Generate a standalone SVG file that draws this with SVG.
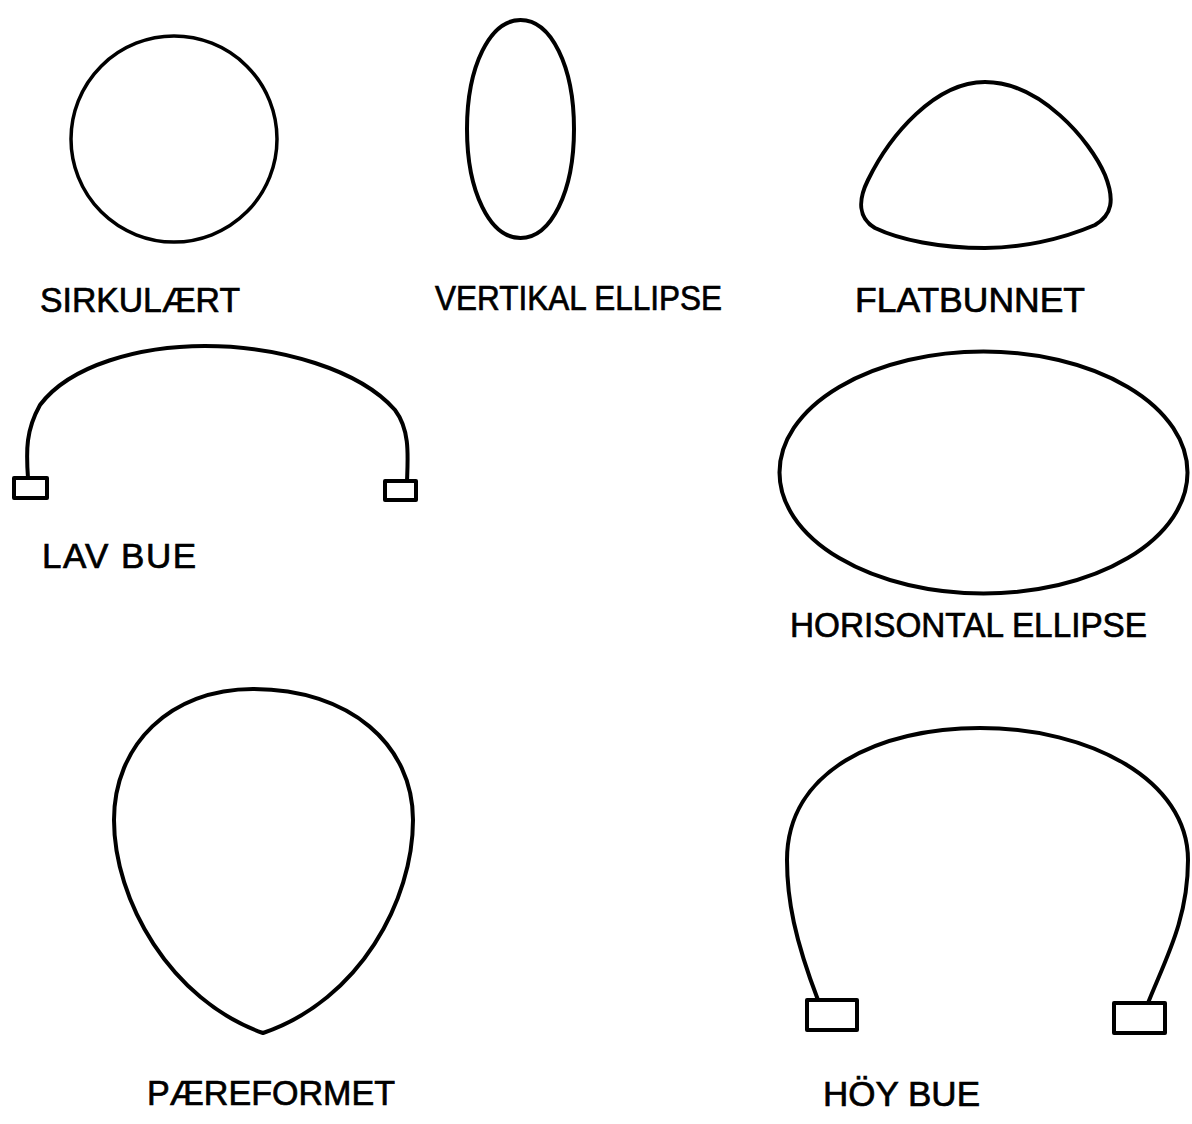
<svg xmlns="http://www.w3.org/2000/svg" width="1192" height="1124" viewBox="0 0 1192 1124">
<style>
.s{fill:none;stroke:#000;stroke-width:4;stroke-linejoin:round;stroke-linecap:round}
.t{font-family:"Liberation Sans","DejaVu Sans",Arial,sans-serif;font-size:35px;fill:#000;stroke:#000;stroke-width:0.7}
</style>
<rect width="1192" height="1124" fill="#fff"/>
<g id="sirkulaert">
<circle class="s" cx="174" cy="139" r="103" style="stroke-width:3.5"/>
<text class="t" x="40" y="312" textLength="200" lengthAdjust="spacingAndGlyphs">SIRKULÆRT</text>
</g>
<g id="vertikal-ellipse">
<path class="s" d="M520.5,20 C551,20 574,66 574,129 C574,192 551,238 520.5,238 C490,238 467,192 467,129 C467,66 490,20 520.5,20 Z"/>
<text class="t" x="435" y="310" textLength="287" lengthAdjust="spacingAndGlyphs">VERTIKAL ELLIPSE</text>
</g>
<g id="flatbunnet">
<path class="s" d="M985,82 C1040,82 1090,140 1105,175 C1115,200 1112,215 1095,225 C1060,240 1020,248 985,248 C940,248 900,240 875,228 C858,218 858,200 868,180 C890,135 935,82 985,82 Z"/>
<text class="t" x="855" y="312" textLength="230" lengthAdjust="spacingAndGlyphs">FLATBUNNET</text>
</g>
<g id="lav-bue">
<path class="s" d="M28,478 C26,450 26,430 40,405 C70,365 140,346 205,346 C280,346 360,370 395,410 C410,430 408,455 407,481"/>
<rect class="s" x="14" y="478" width="33" height="20"/>
<rect class="s" x="385" y="481" width="31" height="19"/>
<text class="t" x="42" y="568" textLength="154" lengthAdjust="spacing">LAV BUE</text>
</g>
<g id="horisontal-ellipse">
<ellipse class="s" cx="983.5" cy="472.5" rx="204" ry="121"/>
<text class="t" x="790" y="637" textLength="357" lengthAdjust="spacingAndGlyphs">HORISONTAL ELLIPSE</text>
</g>
<g id="paereformet">
<path class="s" d="M253,689 C350,689 413,745 413,820 C413,900 360,1000 263,1033 C170,1000 114,900 114,820 C114,745 170,689 253,689 Z"/>
<text class="t" x="147" y="1105" textLength="248" lengthAdjust="spacingAndGlyphs">PÆREFORMET</text>
</g>
<g id="hoy-bue">
<path class="s" d="M818,1000 C795,940 787,900 787,860 C787,770 880,728 980,728 C1090,728 1188,780 1188,860 C1188,920 1165,960 1148,1003"/>
<rect class="s" x="807" y="1000" width="50" height="30"/>
<rect class="s" x="1114" y="1003" width="51" height="30"/>
<text class="t" x="823" y="1106" textLength="157" lengthAdjust="spacing">HÖY BUE</text>
</g>
<g id="connectors"/>
</svg>
